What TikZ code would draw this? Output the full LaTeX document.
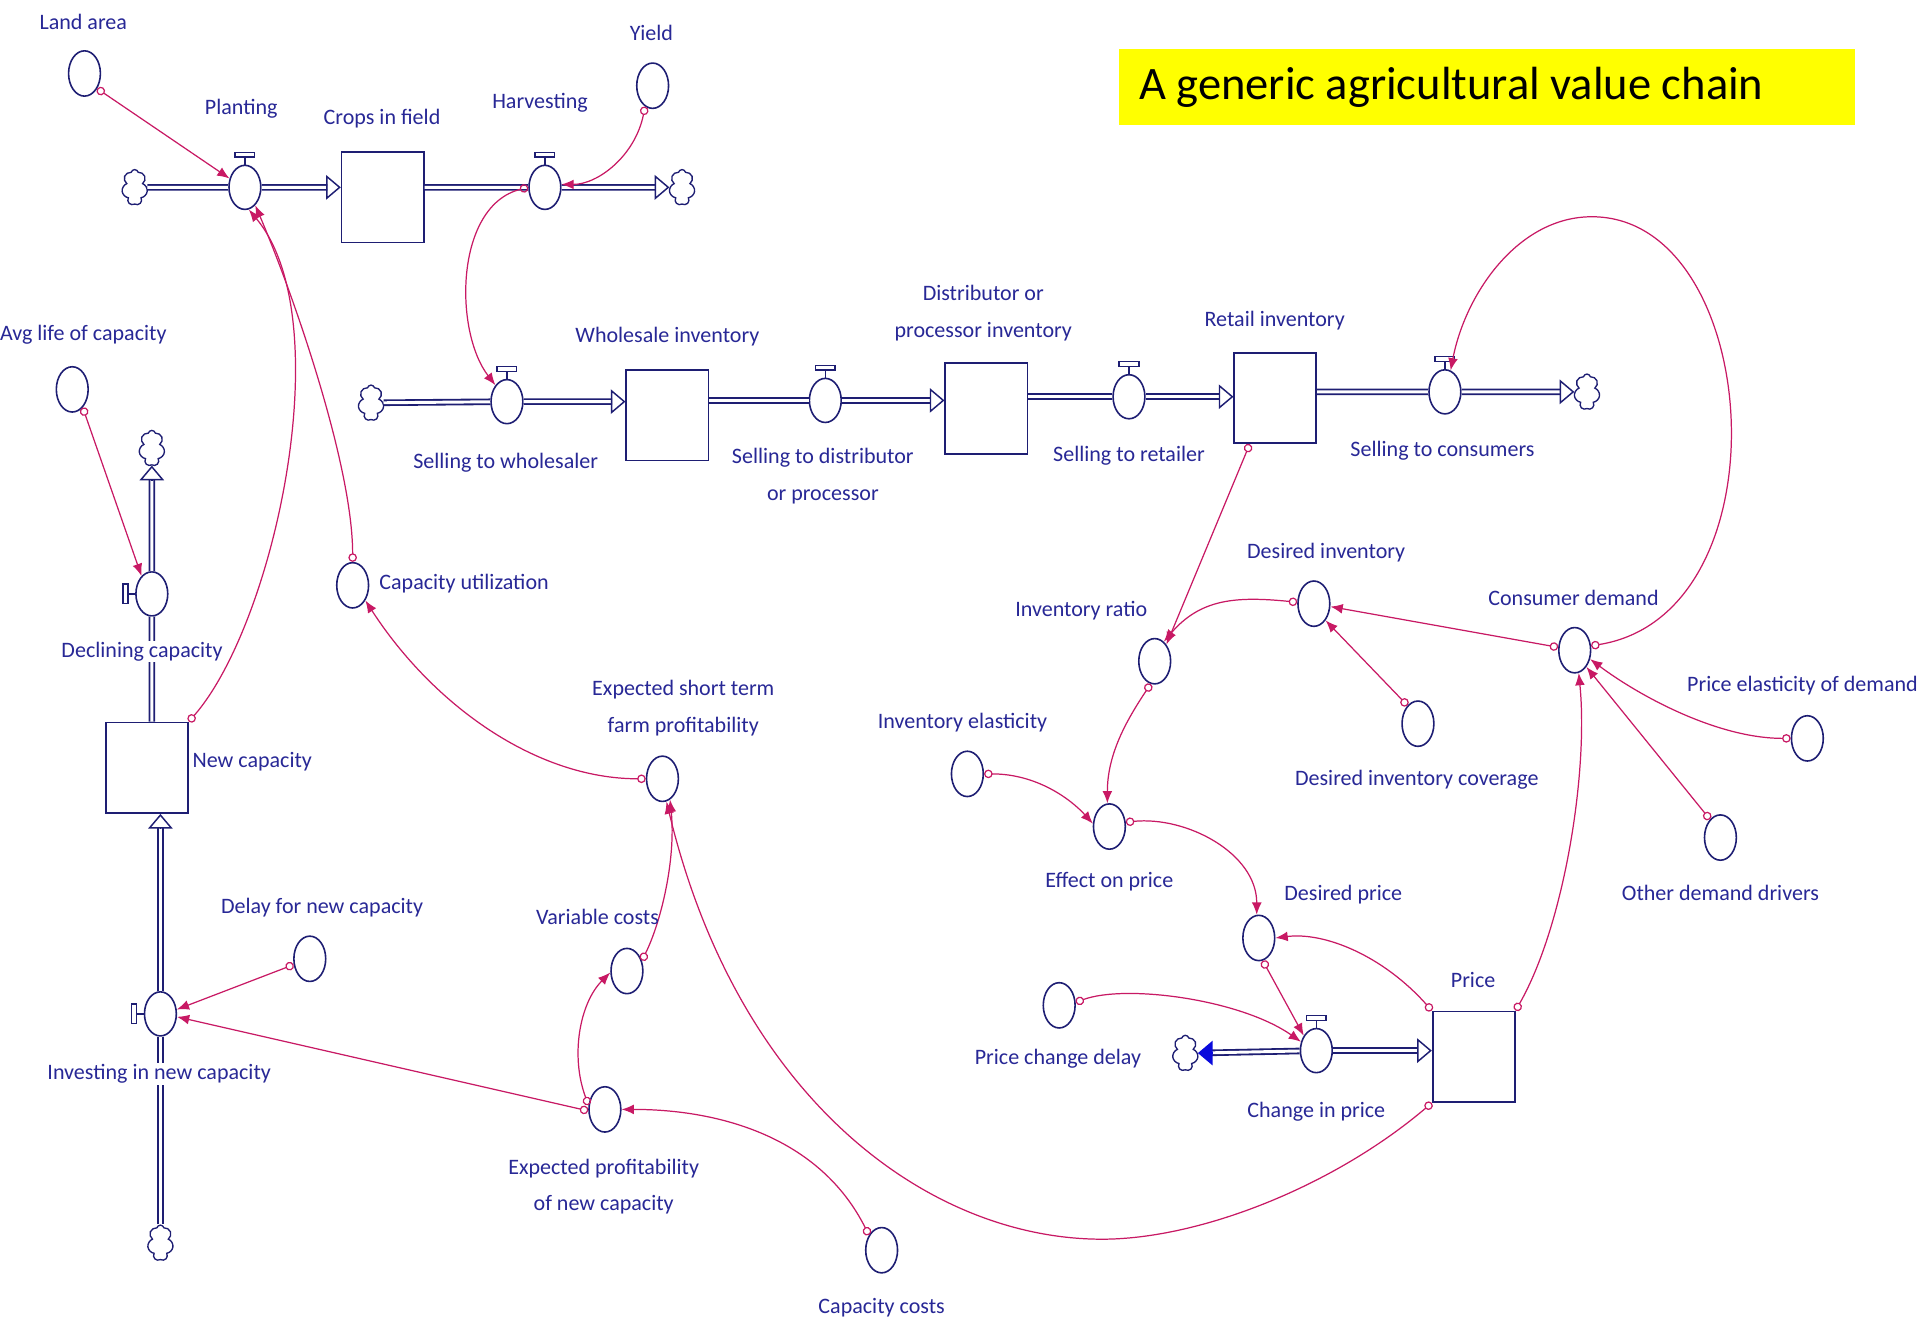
\documentclass[tikz,border=0pt]{standalone}
\usepackage{fontspec}
\usepackage{tikz}
\usetikzlibrary{arrows.meta, shapes.geometric, shapes.symbols}

\newfontfamily\vensimfont{Carlito}
\newcommand{\lblfont}{\vensimfont\fontsize{18}{30}\selectfont}
\newcommand{\ttlfont}{\vensimfont\fontsize{38}{44}\selectfont}

\definecolor{vnavy}{RGB}{30,30,115}
\definecolor{vtext}{RGB}{40,40,150}
\definecolor{vlink}{RGB}{200,25,100}
\definecolor{vblue}{RGB}{10,10,220}
\definecolor{vyellow}{RGB}{255,255,0}

\tikzset{
  stock/.style={rectangle, draw=vnavy, line width=1.4pt, fill=white, minimum width=67pt, minimum height=74pt, inner sep=0pt},
  auxv/.style={ellipse, draw=vnavy, line width=1.3pt, fill=white, minimum width=26pt, minimum height=37pt, inner sep=0pt},
  valve/.style={auxv, minimum height=36pt},
  sink/.style={cloud, cloud puffs=7, cloud ignores aspect, draw=vnavy, line width=1.1pt, fill=white, minimum width=21pt, minimum height=29pt, inner sep=0pt},
  lbl/.style={text=vtext, font=\lblfont, align=center, inner sep=1pt},
  lblw/.style={lbl, fill=white},
  pipe/.style={draw=vnavy, line width=1.5pt, double=white, double distance=2.4pt, shorten >=11pt},
  flowtip/.style={draw=vnavy, line width=1.2pt, -{Triangle[open,length=12pt,width=20pt]}},
  solidtip/.style={draw=vblue, fill=vblue, line width=1.2pt, -{Triangle[length=12pt,width=20pt]}},
  handle/.style={draw=vnavy, line width=1.2pt},
  link/.style={draw=vlink, line width=1pt, {Circle[open,length=7pt,width=7pt]}-{Latex[length=10pt,width=8pt]}},
  titlebg/.style={fill=vyellow, inner sep=0pt, minimum width=601pt, minimum height=62pt},
  titletext/.style={anchor=west, inner sep=0pt, font=\ttlfont}
}

\begin{document}
\begin{tikzpicture}[x=1pt, y=-1pt]
\fill[white] (0,0) rectangle (1568,1082);
\useasboundingbox (0,0) rectangle (1568,1082);

\node[titlebg] (titlebox) at (1214.5,71) {};
\node[titletext] (title) at (930,71) {A generic agricultural value chain};

%%%%%%%%%%%%%%%%%%%
% Stocks

\node[stock] (crops) at (312.5,161) {};
\node[stock] (wholesale) at (545,339) {};
\node[stock] (distrib) at (805.5,333.5) {};
\node[stock] (retail) at (1041.5,325) {};
\node[stock] (newcap) at (120,627) {};
\node[stock] (price) at (1203.5,863) {};

%%%%%%%%%%%%%%%%%%%
% Valves and clouds

\node[valve] (plantV) at (200,153) {};
\node[valve] (harvV) at (445,153) {};
\node[valve] (wholeV) at (414,328) {};
\node[valve] (distV) at (674,327) {};
\node[valve] (retV) at (922,324) {};
\node[valve] (consV) at (1180,320) {};
\node[valve] (declV) at (124,485) {};
\node[valve] (investV) at (131,828) {};
\node[valve] (chpriceV) at (1075,858) {};

\foreach \v in {plantV,harvV,wholeV,distV,retV,consV,chpriceV}{
  \draw[handle] (\v.north) -- ++(0,-6);
  \draw[handle] ([shift={(-8,-6)}]\v.north) rectangle ([shift={(8,-10)}]\v.north);
}
\foreach \v in {declV,investV}{
  \draw[handle] (\v.west) -- ++(-6,0);
  \draw[handle] ([shift={(-6,-8)}]\v.west) rectangle ([shift={(-10,8)}]\v.west);
}

\node[sink] (cloudA) at (110,153) {};
\node[sink] (cloudB) at (557,153) {};
\node[sink] (cloudC) at (303,329) {};
\node[sink] (cloudD) at (1296,320) {};
\node[sink] (cloudE) at (124,366) {};
\node[sink] (cloudF) at (968,860) {};
\node[sink] (cloudG) at (131,1015) {};

%%%%%%%%%%%%%%%%%%%
% Pipes

\coordinate (cropsIn) at (crops.west |- plantV);
\coordinate (cropsOut) at (crops.east |- harvV);
\draw[pipe] (cloudA) -- (plantV) -- (cropsIn);
\draw[flowtip] ([xshift=-12pt]cropsIn) -- (cropsIn);
\draw[pipe] (cropsOut) -- (harvV) -- (cloudB.west);
\draw[flowtip] ([xshift=-12pt]cloudB.west) -- (cloudB.west);

\coordinate (wholeIn) at (wholesale.west |- wholeV);
\coordinate (wholeOut) at (wholesale.east |- distV);
\coordinate (distIn) at (distrib.west |- distV);
\coordinate (distOut) at (distrib.east |- retV);
\coordinate (retIn) at (retail.west |- retV);
\coordinate (retOut) at (retail.east |- consV);
\draw[pipe] (cloudC) -- (wholeV) -- (wholeIn);
\draw[flowtip] ([xshift=-12pt]wholeIn) -- (wholeIn);
\draw[pipe] (wholeOut) -- (distV) -- (distIn);
\draw[flowtip] ([xshift=-12pt]distIn) -- (distIn);
\draw[pipe] (distOut) -- (retV) -- (retIn);
\draw[flowtip] ([xshift=-12pt]retIn) -- (retIn);
\draw[pipe] (retOut) -- (consV) -- (cloudD.west);
\draw[flowtip] ([xshift=-12pt]cloudD.west) -- (cloudD.west);

\coordinate (capOut) at (newcap.north -| declV);
\coordinate (capIn) at (newcap.south -| investV);
\draw[pipe] (capOut) -- (declV) -- (cloudE.south);
\draw[flowtip] ([yshift=-12pt]cloudE.south) -- (cloudE.south);
\draw[pipe] (cloudG) -- (investV) -- (capIn);
\draw[flowtip] ([yshift=-12pt]capIn) -- (capIn);

\coordinate (priceIn) at (price.west |- chpriceV);
\draw[pipe] (chpriceV) -- (priceIn);
\draw[flowtip] ([xshift=-12pt]priceIn) -- (priceIn);
\draw[pipe] (chpriceV) -- (cloudF.east);
\draw[solidtip] ([xshift=12pt]cloudF.east) -- (cloudF.east);

%%%%%%%%%%%%%%%%%%%
% Auxiliaries

\node[auxv] (landarea) at (69,60) {};
\node[auxv] (yield) at (533,70) {};
\node[auxv] (avglife) at (59,318) {};
\node[auxv] (caputil) at (288,478) {};
\node[auxv] (estfp) at (541,636) {};
\node[auxv] (delay) at (253,783) {};
\node[auxv] (varcost) at (512,793) {};
\node[auxv] (exprof) at (494,906) {};
\node[auxv] (capcost) at (720,1021) {};
\node[auxv] (invelast) at (790,632) {};
\node[auxv] (effprice) at (906,675) {};
\node[auxv] (invratio) at (943,540) {};
\node[auxv] (desinv) at (1073,493) {};
\node[auxv] (consdem) at (1286,531) {};
\node[auxv] (desinvcov) at (1158,591) {};
\node[auxv] (pelast) at (1476,603) {};
\node[auxv] (otherdd) at (1405,684) {};
\node[auxv] (desprice) at (1028,766) {};
\node[auxv] (pcdelay) at (865,821) {};

%%%%%%%%%%%%%%%%%%%
% Links

\draw[link] (landarea.-50) -- (plantV.150);
\draw[link] (yield.-110) .. controls +(-8,40) and +(30,0) .. (harvV.10);
\draw[link] (harvV.180) .. controls +(-60,15) and +(-34,-44) .. (wholeV.125);
\draw[link] (newcap.north east) .. controls +(70,-80) and +(75,90) .. (plantV.-80);
\draw[link] (caputil.north) .. controls +(0,-80) and +(30,70) .. (plantV.-60);
\draw[link] (estfp.west) .. controls +(-90,0) and +(55,85) .. (caputil.-50);
\draw[link] (price.south west) .. controls +(-80,68) and +(80,0) .. (900,1012)
  .. controls +(-140,0) and +(59,245) .. (estfp.-80);
\draw[link] (varcost.35) .. controls +(15,-30) and +(5,50) .. (estfp.-70);
\draw[link] (exprof.165) .. controls +(-15,-40) and +(-25,25) .. (varcost.185);
\draw[link] (exprof.185) -- (investV.-10);
\draw[link] (delay.200) -- (investV.15);
\draw[link] (capcost.130) .. controls +(-40,-80) and +(80,0) .. (exprof.0);
\draw[link] (avglife.-60) -- (declV.120);

\draw[link] (retail.-119) -- (invratio.55);
\draw[link] (desinv.175) .. controls +(-50,-5) and +(30,-35) .. (invratio.65);
\draw[link] (consdem.170) -- (desinv.-10);
\draw[link] (desinvcov.120) -- (desinv.-55);
\draw[link] (consdem.15) .. controls +(162,-26) and +(140,0) .. (1300,177)
  .. controls +(-60,0) and +(12,-63) .. (consV.75);
\draw[link] (pelast.180) .. controls +(-60,0) and +(40,30) .. (consdem.-30);
\draw[link] (otherdd.120) -- (consdem.-55);
\draw[link] (price.north east) .. controls +(40,-70) and +(8,80) .. (consdem.-80);
\draw[link] (invratio.-100) .. controls +(-20,30) and +(0,-40) .. (effprice.95);
\draw[link] (invelast.0) .. controls +(43,0) and +(-18,-20) .. (effprice.170);
\draw[link] (effprice.15) .. controls +(50,-5) and +(0,-50) .. (desprice.95);
\draw[link] (price.north west) .. controls +(-40,-45) and +(40,-5) .. (desprice.0);
\draw[link] (desprice.-80) -- (chpriceV.130);
\draw[link] (pcdelay.10) .. controls +(40,-15) and +(-50,-35) .. (chpriceV.150);

%%%%%%%%%%%%%%%%%%%
% Labels

\node[lbl] (tLand) at (68,18) {Land area};
\node[lbl] (tYield) at (532,27) {Yield};
\node[lbl] (tPlant) at (197,89) {Planting};
\node[lbl] (tCrops) at (312,97) {Crops in field};
\node[lbl] (tHarv) at (441,84) {Harvesting};
\node[lbl] (tAvg) at (68,273) {Avg life of capacity};
\node[lblw] (tDecl) at (116,532) {Declining capacity};
\node[lbl] (tNewcap) at (206,622) {New capacity};
\node[lbl] (tCaputil) at (379,477) {Capacity utilization};
\node[lbl] (tWholeV) at (413,378) {Selling to wholesaler};
\node[lbl] (tWhole) at (545,275) {Wholesale inventory};
\node[lbl] (tDistV) at (672,389) {Selling to distributor\\or processor};
\node[lbl] (tDist) at (803,256) {Distributor or\\processor inventory};
\node[lbl] (tRetV) at (922,372) {Selling to retailer};
\node[lbl] (tRet) at (1041,262) {Retail inventory};
\node[lbl] (tConsV) at (1178,368) {Selling to consumers};
\node[lbl] (tEstfp) at (558,578) {Expected short term\\farm profitability};
\node[lbl] (tDelay) at (263,741) {Delay for new capacity};
\node[lbl] (tVarcost) at (488,749) {Variable costs};
\node[lblw] (tInvest) at (130,877) {Investing in new capacity};
\node[lbl] (tExprof) at (493,969) {Expected profitability\\of new capacity};
\node[lbl] (tCapcost) at (720,1068) {Capacity costs};
\node[lbl] (tInvelast) at (786,590) {Inventory elasticity};
\node[lbl] (tEffprice) at (906,720) {Effect on price};
\node[lbl] (tInvratio) at (883,499) {Inventory ratio};
\node[lbl] (tDesinv) at (1083,451) {Desired inventory};
\node[lbl] (tConsdem) at (1285,488) {Consumer demand};
\node[lbl] (tDesinvcov) at (1157,637) {Desired inventory coverage};
\node[lbl] (tPelast) at (1472,560) {Price elasticity of demand};
\node[lbl] (tOtherdd) at (1405,729) {Other demand drivers};
\node[lbl] (tDesprice) at (1097,731) {Desired price};
\node[lbl] (tPcdelay) at (864,865) {Price change delay};
\node[lbl] (tChprice) at (1075,908) {Change in price};
\node[lbl] (tPrice) at (1203,800) {Price};

\end{tikzpicture}
\end{document}
